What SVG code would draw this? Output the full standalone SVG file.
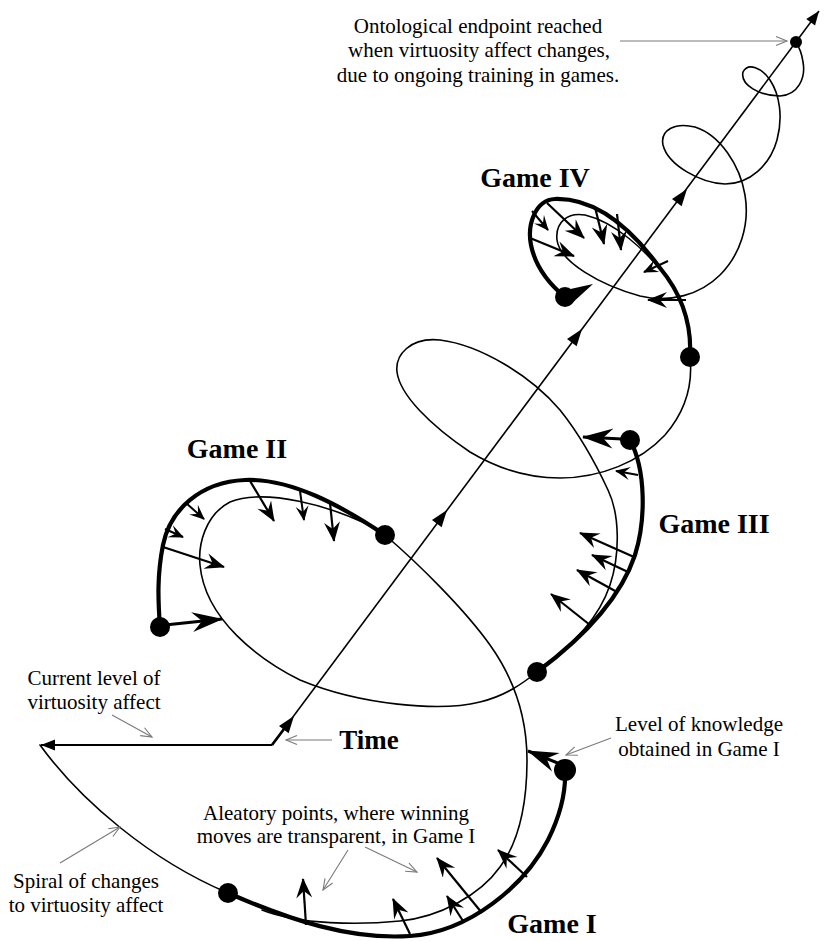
<svg xmlns="http://www.w3.org/2000/svg" xmlns:xlink="http://www.w3.org/1999/xlink" width="825" height="941" viewBox="0 0 825 941">
<style>
.thin{fill:none;stroke:#000;stroke-width:1.6;stroke-linecap:round;stroke-linejoin:round}
.thick{fill:none;stroke:#000;stroke-width:4.2;stroke-linecap:round;stroke-linejoin:round}
.arr{fill:none;stroke:#000;stroke-width:2.2;marker-end:url(#ah)}
.arrs{fill:none;stroke:#000;stroke-width:2;marker-end:url(#ahs)}
.arrL{fill:none;stroke:#000;stroke-width:3;marker-end:url(#ahL)}
.gray{fill:none;stroke:#7a7a7a;stroke-width:1.1;marker-end:url(#open)}
.dot{fill:#000}
.t{font-family:"Liberation Serif","Times New Roman",serif;font-size:21px;fill:#000;text-anchor:middle}
.g{font-family:"Liberation Serif","Times New Roman",serif;font-size:28px;font-weight:bold;fill:#000;text-anchor:middle}
</style>
<defs>
<marker id="ah" viewBox="-21 -8 23 16" refX="-1" refY="0" markerWidth="23" markerHeight="16" orient="auto" markerUnits="userSpaceOnUse"><path d="M0,0 L-20,-8 L-13,0 L-20,8 Z" fill="#000"/></marker>
<marker id="ahs" viewBox="-16 -7 18 14" refX="-1" refY="0" markerWidth="18" markerHeight="14" orient="auto" markerUnits="userSpaceOnUse"><path d="M0,0 L-15,-6.5 L-9,0 L-15,6.5 Z" fill="#000"/></marker>
<marker id="ahL" viewBox="-32 -11 34 22" refX="-1" refY="0" markerWidth="34" markerHeight="22" orient="auto" markerUnits="userSpaceOnUse"><path d="M0,0 L-31,-10 L-21,0 L-31,10 Z" fill="#000"/></marker>
<marker id="open" viewBox="-12 -6 14 12" refX="0" refY="0" markerWidth="14" markerHeight="12" orient="auto" markerUnits="userSpaceOnUse"><path d="M-11,-4.5 L0,0 L-11,4.5" fill="none" stroke="#7a7a7a" stroke-width="1.1"/></marker>
<marker id="tri" viewBox="-15 -6 16 12" refX="0" refY="0" markerWidth="16" markerHeight="12" orient="auto" markerUnits="userSpaceOnUse"><path d="M0,0 L-14,-5.5 L-14,5.5 Z" fill="#000"/></marker>
<path id="mid" d="M0,0 L-17,-6 L-17,6 Z" fill="#000"/>
</defs>

<g id="axis">
<line x1="272" y1="745" x2="819" y2="11" stroke="#000" stroke-width="1.6" marker-end="url(#tri)"/>
<line x1="272" y1="745" x2="290" y2="721" stroke="#000" stroke-width="2.6"/>
<line x1="272" y1="745" x2="41" y2="745" stroke="#000" stroke-width="2" marker-end="url(#tri)"/>
<use xlink:href="#mid" transform="translate(294,716) rotate(-53.3)"/>
<use xlink:href="#mid" transform="translate(447,510) rotate(-53.3)"/>
<use xlink:href="#mid" transform="translate(582,329) rotate(-53.3)"/>
<use xlink:href="#mid" transform="translate(687,189) rotate(-53.3)"/>
</g>

<g id="spiral">
<path class="thin" d="M40,745 C80,800 150,860 228,893"/>
<path class="thin" d="M262,910 C300,925 360,925 400,921 C440,917 480,895 500,867 C520,840 527,800 527,760 C527,720 515,680 490,645 C465,610 420,565 385,535"/>
<path class="thin" d="M377,529 C330,505 265,488 230,502 C205,515 198,545 200,565 C205,620 260,660 300,680 C360,705 440,712 480,702 C505,696 522,684 537,672"/>
<path class="thin" d="M540,668 C575,645 600,615 610,585 C620,555 620,515 608,490 C595,462 580,435 560,410 C530,375 480,345 440,340 C410,337 395,355 397,372 C400,395 430,425 470,452 C500,470 530,478 560,478 C600,478 640,462 665,435 C685,412 693,385 690,357"/>
<path class="thin" d="M690,335 C688,315 680,295 665,275 C645,250 615,222 585,215 C568,212 555,222 557,240 C560,262 600,285 640,296 C670,303 700,295 720,275 C740,255 750,225 745,195 C740,165 720,135 695,127 C675,122 660,130 663,145 C668,165 700,183 725,184 C750,184 770,165 777,140 C783,118 780,95 770,80 C762,68 748,62 743,72 C740,85 760,96 780,96 C798,95 806,78 803,62 C802,55 800,48 796,43"/>
</g>

<g id="game1">
<path class="thick" d="M228,893 C290,920 350,940 410,936 C470,932 525,885 548,840 C562,812 566,790 565,770"/>
<line class="arr" x1="306" y1="925" x2="303" y2="879"/>
<line class="arr" x1="410" y1="934" x2="393" y2="899"/>
<line class="arr" x1="463" y1="921" x2="447" y2="896"/>
<line class="arr" x1="482" y1="913" x2="437" y2="858"/>
<line class="arr" x1="527" y1="877" x2="498" y2="850"/>
<line class="arrL" x1="560" y1="764" x2="528" y2="751"/>
<circle class="dot" cx="228" cy="893" r="10"/>
<circle class="dot" cx="565" cy="770" r="11"/>
</g>

<g id="game2">
<path class="thick" d="M385,535 C340,505 290,478 245,480 C200,482 170,510 163,545 C157,575 158,600 160,627"/>
<line class="arrL" x1="165" y1="625" x2="222" y2="619"/>
<line class="arr" x1="163" y1="547" x2="224" y2="567"/>
<line class="arrs" x1="165" y1="529" x2="183" y2="537"/>
<line class="arrs" x1="186" y1="503" x2="204" y2="519"/>
<line class="arr" x1="250" y1="481" x2="274" y2="521"/>
<line class="arrs" x1="300" y1="491" x2="304" y2="520"/>
<line class="arr" x1="330" y1="503" x2="334" y2="541"/>
<circle class="dot" cx="160" cy="627" r="10"/>
<circle class="dot" cx="385" cy="535" r="10"/>
</g>

<g id="game3">
<path class="thick" d="M537,672 C580,640 620,600 635,555 C646,520 646,470 630,440"/>
<line class="arrL" x1="622" y1="439" x2="583" y2="437"/>
<line class="arrs" x1="638" y1="475" x2="616" y2="471"/>
<line class="arr" x1="634" y1="557" x2="580" y2="533"/>
<line class="arr" x1="628" y1="572" x2="592" y2="555"/>
<line class="arr" x1="617" y1="592" x2="577" y2="570"/>
<line class="arr" x1="590" y1="625" x2="551" y2="594"/>
<circle class="dot" cx="537" cy="672" r="10"/>
<circle class="dot" cx="630" cy="440" r="10"/>
</g>

<g id="game4">
<path class="thick" d="M690,357 C692,322 680,292 660,268 C625,220 590,198 555,199 C535,200 527,225 531,245 C535,265 548,283 565,297"/>
<line class="arr" x1="547" y1="203" x2="584" y2="238"/>
<line class="arrs" x1="532" y1="211" x2="548" y2="230"/>
<line class="arr" x1="530" y1="238" x2="574" y2="256"/>
<line class="arr" x1="595" y1="207" x2="604" y2="244"/>
<line class="arr" x1="617" y1="214" x2="621" y2="250"/>
<line class="arrs" x1="668" y1="261" x2="644" y2="272"/>
<line class="arr" x1="686" y1="300" x2="648" y2="300"/>
<path d="M557,292 L593,284 L570,305 Z" fill="#000"/>
<circle class="dot" cx="565" cy="297" r="10"/>
<circle class="dot" cx="690" cy="357" r="10"/>
<circle class="dot" cx="796" cy="42" r="6"/>
</g>

<g id="connectors">
<line class="gray" x1="620" y1="41" x2="787" y2="41"/>
<line class="gray" x1="112" y1="715" x2="152" y2="737"/>
<line class="gray" x1="332" y1="740" x2="286" y2="740"/>
<line class="gray" x1="60" y1="863" x2="120" y2="827"/>
<line class="gray" x1="348" y1="850" x2="323" y2="890"/>
<line class="gray" x1="365" y1="847" x2="417" y2="872"/>
<line class="gray" x1="611" y1="738" x2="566" y2="755"/>
</g>

<g id="labels">
<text class="t" x="478" y="33">Ontological endpoint reached</text>
<text class="t" x="479" y="57">when virtuosity affect changes,</text>
<text class="t" x="478" y="82">due to ongoing training in games.</text>
<text class="t" x="94" y="685">Current level of</text>
<text class="t" x="94" y="709">virtuosity affect</text>
<text class="t" x="86" y="888">Spiral of changes</text>
<text class="t" x="86" y="912">to virtuosity affect</text>
<text class="t" x="336" y="820">Aleatory points, where winning</text>
<text class="t" x="336" y="843">moves are transparent, in Game I</text>
<text class="t" x="699" y="731">Level of knowledge</text>
<text class="t" x="699" y="756">obtained in Game I</text>
<text class="g" x="369" y="749" style="font-size:27px">Time</text>
<text class="g" x="237" y="458">Game II</text>
<text class="g" x="714" y="533">Game III</text>
<text class="g" x="535" y="187">Game IV</text>
<text class="g" x="552" y="933">Game I</text>
</g>
</svg>
